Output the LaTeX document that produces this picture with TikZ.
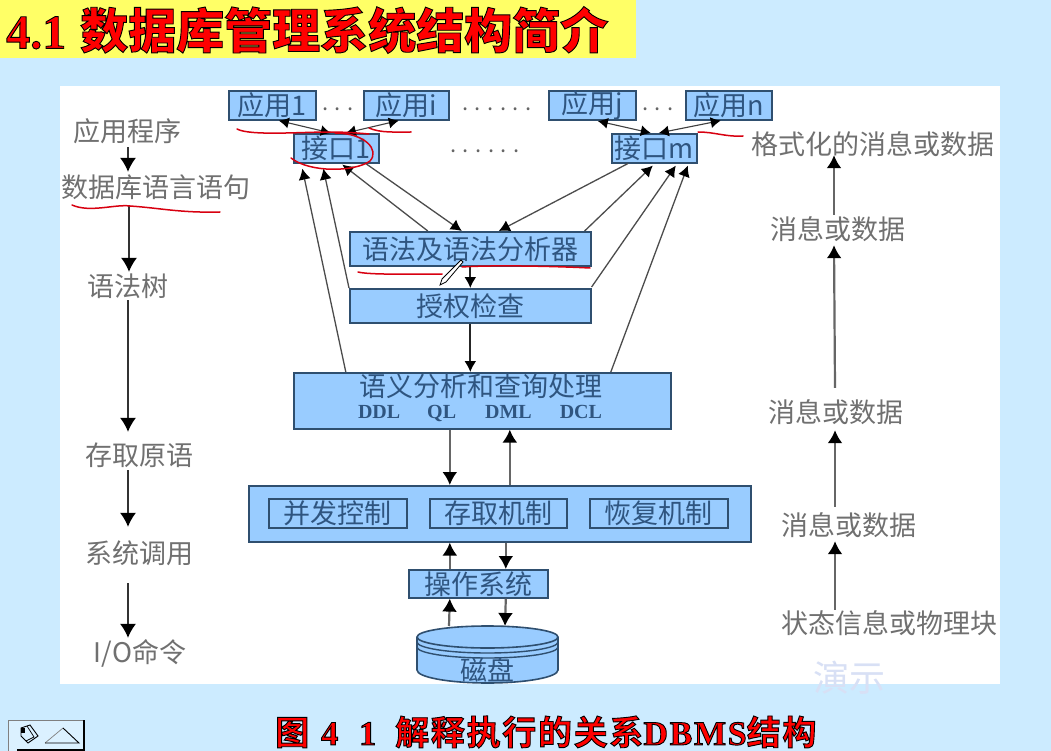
\documentclass[tikz,border=0pt]{standalone}
\usepackage{fontspec}
\usepackage{tikz}
\usetikzlibrary{arrows.meta}
\setmainfont{Noto Sans CJK SC}
\newfontfamily\latinfont{Liberation Serif}
\definecolor{pagebg}{HTML}{CCEBFF}
\definecolor{titlebg}{HTML}{FFFF66}
\definecolor{boxfill}{HTML}{99CCFF}
\definecolor{boxedge}{HTML}{2F4F6F}
\definecolor{boxtext}{HTML}{2F5580}
\definecolor{inktext}{HTML}{707070}
\definecolor{penred}{HTML}{D80010}
\definecolor{faintblue}{HTML}{D8E0F5}
\newcommand{\outlined}[1]{\special{pdf:code 2 Tr 0.9 w 0 G}#1\special{pdf:code 0 Tr}}
\tikzset{
 boxnode/.style={draw=boxedge,line width=1.6pt,fill=boxfill,text=boxtext,inner sep=0pt,anchor=north west,font=\fontsize{27}{28}\selectfont},
 sidelabel/.style={text=inktext,inner sep=0pt,text height=21.5pt,text depth=0.5pt,font=\fontsize{27}{28}\selectfont},
 sidelink/.style={draw=black!80,line width=1.2pt,-{Latex[black,length=14pt,width=16pt]}},
 thinlink/.style={draw=black!70,line width=1.3pt,-{Latex[black,length=11pt,width=12pt]}},
 twolink/.style={draw=black!75,line width=1.1pt,{Latex[black,length=10pt,width=11pt]}-{Latex[black,length=10pt,width=11pt]}},
 fatlink/.style={draw=black!60,line width=2.2pt,-{Latex[black,length=13pt,width=15pt]}},
 dotsnode/.style={text=black!60,inner sep=0pt,font=\fontsize{22}{22}\selectfont},
 scribble/.style={draw=penred,line width=1.5pt,line cap=round,line join=round}
}
\begin{document}
\begin{tikzpicture}[x=1pt,y=-1pt]
 \useasboundingbox (0,0) rectangle (1051,751);
 \fill[pagebg] (0,0) rectangle (1051,751);
 \fill[titlebg] (0,0) rectangle (636,58);
 \fill[white] (60,86) rectangle (1000,684);

 % heading and caption
 \node[anchor=west,inner sep=0pt,text=red] (heading) at (6,30) {\outlined{\fontsize{48}{50}\selectfont\latinfont\bfseries 4.1\hspace{14pt}\fontspec{Noto Sans CJK SC Bold}数据库管理系统结构简介}};
 \node[anchor=west,inner sep=0pt,text=red] (caption) at (275,732) {\outlined{\fontsize{34}{34}\selectfont\fontspec[LetterSpace=5]{Noto Sans CJK SC Bold}图\hspace{12pt}{\latinfont\bfseries 4\hspace{21pt}1}\hspace{19pt}解释执行的关系{\latinfont\bfseries\addfontfeatures{LetterSpace=5}DBMS}结构}};
 \node[text=faintblue,inner sep=0pt,font=\fontsize{36}{36}\selectfont] (demo) at (849,678) {演示};

 % applications
 \node[boxnode,minimum width=87pt,minimum height=29pt] (app1) at (228,90) {应用1};
 \node[boxnode,minimum width=85pt,minimum height=29pt] (appi) at (363,90) {应用i};
 \node[boxnode,minimum width=87pt,minimum height=29pt] (appj) at (548,90) {应用j};
 \node[boxnode,minimum width=86pt,minimum height=29pt] (appn) at (685,90) {应用n};
 \node[dotsnode] (dotsa) at (338,109) {. . .};
 \node[dotsnode] (dotsb) at (497,109) {. . . . . .};
 \node[dotsnode] (dotsc) at (658,109) {. . .};
 \node[dotsnode] (dotsd) at (485,151) {. . . . . .};
 \node[boxnode,minimum width=85pt,minimum height=29pt] (intf1) at (293,133) {接口1};
 \node[boxnode,minimum width=85pt,minimum height=29pt] (intfm) at (611,133) {接口m};

 % middle blocks
 \node[boxnode,minimum width=241pt,minimum height=34pt] (syn) at (349,231) {语法及语法分析器};
 \node[boxnode,minimum width=241pt,minimum height=34pt] (auth) at (349,288) {授权检查};
 \node[boxnode,minimum width=377pt,minimum height=56pt] (sem) at (293,372) {};
 \node[text=boxtext,inner sep=0pt,font=\fontsize{27}{28}\selectfont] (semtitle) at (481,386) {语义分析和查询处理};
 \node[text=boxtext,inner sep=0pt,font=\fontsize{20}{20}\selectfont\latinfont\bfseries] (semlang) at (480,413) {DDL\hspace{27pt}QL\hspace{29pt}DML\hspace{28pt}DCL};
 \node[boxnode,minimum width=502pt,minimum height=56pt] (ctrl) at (248,485) {};
 \node[boxnode,minimum width=138pt,minimum height=29pt] (conc) at (268,498) {并发控制};
 \node[boxnode,minimum width=137pt,minimum height=29pt] (access) at (429,498) {存取机制};
 \node[boxnode,minimum width=138pt,minimum height=29pt] (recov) at (589,498) {恢复机制};
 \node[boxnode,minimum width=139pt,minimum height=28pt] (os) at (408,569) {操作系统};

 % disk
 \filldraw[fill=boxfill,draw=boxedge,line width=1.6pt] (417,637) -- (417,670) arc[start angle=180,end angle=360,x radius=70.5pt,y radius=13pt] -- (558,637) arc[start angle=0,end angle=180,x radius=70.5pt,y radius=11pt] -- cycle;
 \draw[boxedge,line width=1.6pt] (417,637) arc[start angle=180,end angle=360,x radius=70.5pt,y radius=11pt];
 \draw[boxedge,line width=1.4pt] (417,642) arc[start angle=180,end angle=360,x radius=70.5pt,y radius=11pt];
 \draw[boxedge,line width=1.4pt] (417,647) arc[start angle=180,end angle=360,x radius=70.5pt,y radius=11pt];
 \node[text=boxtext,inner sep=0pt,font=\fontsize{27}{28}\selectfont] (disk) at (487,670) {磁盘};
 \coordinate (disktop) at (487.5,626);

 % left column
 \node[sidelabel] (prog) at (127,131) {应用程序};
 \node[sidelabel] (stmt) at (156,187) {数据库语言语句};
 \node[sidelabel] (tree) at (128,286) {语法树};
 \node[sidelabel] (prim) at (139,455) {存取原语};
 \node[sidelabel] (call) at (139,553) {系统调用};
 \node[sidelabel] (iocmd) at (140,652) {I/O命令};
 \draw[sidelink] ([xshift=1pt,yshift=-5pt]prog.south) -- ([xshift=-28pt,yshift=4pt]stmt.north);
 \draw[sidelink] ([xshift=-27pt,yshift=-7pt]stmt.south) -- ([xshift=1pt,yshift=3pt]tree.north);
 \draw[sidelink] ([yshift=-3pt]tree.south) -- ([xshift=-11pt,yshift=12pt]prim.north);
 \draw[sidelink] ([xshift=-11pt,yshift=-4pt]prim.south) -- ([xshift=-11pt,yshift=15pt]call.north);
 \draw[sidelink] ([xshift=-11pt,yshift=-19pt]call.south) -- ([xshift=-12pt,yshift=3pt]iocmd.north);

 % right column
 \node[sidelabel] (block) at (889,623) {状态信息或物理块};
 \node[sidelabel] (msga) at (849,525) {消息或数据};
 \node[sidelabel] (msgb) at (836,412) {消息或数据};
 \node[sidelabel] (msgc) at (838,229) {消息或数据};
 \node[sidelabel] (fmt) at (873,144) {格式化的消息或数据};
 \draw[fatlink] ([xshift=-54pt,yshift=2pt]block.north) -- ([xshift=-14pt,yshift=-5pt]msga.south);
 \draw[fatlink] ([xshift=-14pt,yshift=7pt]msga.north) -- ([xshift=-1pt,yshift=-7pt]msgb.south);
 \draw[fatlink] ([xshift=-1pt,yshift=13pt]msgb.north) -- ([xshift=-4pt,yshift=-5pt]msgc.south);
 \draw[fatlink] ([xshift=-4pt,yshift=3pt]msgc.north) -- ([xshift=-39pt]fmt.south);

 % connectors at the top
 \draw[twolink] ([xshift=6.5pt]app1.south) -- ([xshift=-5.5pt]intf1.north);
 \draw[twolink] ([xshift=-7.5pt]appi.south) -- ([xshift=9.5pt]intf1.north);
 \draw[twolink] ([xshift=5.5pt]appj.south) -- ([xshift=-3.5pt]intfm.north);
 \draw[twolink] ([xshift=-8pt]appn.south) -- ([xshift=4.5pt]intfm.north);
 \draw[thinlink] ([xshift=-136.5pt]sem.north) -- ([xshift=-34pt,yshift=-5pt]intf1.south);
 \draw[thinlink] (auth.north west) -- ([xshift=-13pt,yshift=-5pt]intf1.south);
 \draw[thinlink] ([xshift=-42.5pt]syn.north) -- ([xshift=6pt,yshift=-1pt]intf1.south);
 \draw[thinlink] ([xshift=29.5pt]intf1.south) -- ([xshift=-8.5pt]syn.north);
 \draw[thinlink] ([xshift=-26.5pt]intfm.south) -- ([xshift=28.5pt]syn.north);
 \draw[thinlink] ([xshift=-7pt]syn.north east) -- ([xshift=-1.5pt,yshift=-2pt]intfm.south);
 \draw[thinlink] ([yshift=1pt]auth.north east) -- ([xshift=21.5pt,yshift=-2pt]intfm.south);
 \draw[thinlink] ([xshift=128.5pt]sem.north) -- ([xshift=33.5pt,yshift=-2pt]intfm.south);

 % connectors in the middle
 \draw[thinlink,line width=1.7pt,draw=black!85] (syn) -- (auth);
 \draw[thinlink,line width=1.7pt,draw=black!85] (auth) -- (sem.north -| auth);
 \draw[fatlink] ([xshift=-32.5pt]sem.south) -- ([xshift=-50pt]ctrl.north);
 \draw[fatlink] ([xshift=10pt]ctrl.north) -- ([xshift=27.5pt]sem.south);
 \draw[fatlink] ([xshift=-28.5pt]os.north) -- ([xshift=-50pt]ctrl.south);
 \draw[fatlink] ([xshift=6pt]ctrl.south) -- ([xshift=27.5pt]os.north);
 \draw[fatlink] ([xshift=-38.5pt]disktop) -- ([xshift=-28.5pt]os.south);
 \draw[fatlink] ([xshift=27.5pt]os.south) -- ([xshift=17.5pt]disktop);

 % pen marks
 \draw[scribble] (237,129) .. controls (250,136) and (300,132) .. (330,132) .. controls (345,132) and (358,133) .. (369,134);
 \draw[scribble] (369,128) .. controls (380,133) and (395,132) .. (411,132);
 \draw[scribble] (335,133) .. controls (365,133) and (380,150) .. (370,161) .. controls (355,172) and (310,173) .. (291,158);
 \draw[scribble] (72,205) .. controls (90,213) and (115,204) .. (130,206) .. controls (160,208) and (180,213) .. (220,212);
 \draw[scribble] (358,272) .. controls (370,275) and (410,274) .. (442,274);
 \draw[scribble] (462,267) .. controls (490,265) and (550,266) .. (590,268);
 \draw[scribble] (698,132) .. controls (715,132) and (725,137) .. (743,136);
 \filldraw[fill=white,draw=black,line width=0.8pt] (461,260) -- (463,262) -- (446,282) -- (440,285) -- (442,279) -- cycle;

 % button at the bottom
 \fill[pagebg!70!white] (8,720) rectangle (85,751);
 \draw[black!50,line width=0.8pt] (8,751) -- (8,720) -- (85,720);
 \fill[black] (83,720) rectangle (85,751);
 \fill[black] (17,749) rectangle (85,751);
 \draw[black!50,line width=0.7pt] (45,743) -- (63,728);
 \draw[black,line width=0.9pt] (63,728) -- (79,743) -- (45,743);
 \draw[black,line width=0.9pt] (21,728) -- (30,725) -- (38,736) -- (28,743) -- (21,736) -- cycle;
 \draw[black,line width=0.7pt] (27,726) -- (34,737) -- (26,741);
 \fill[black] (21,728) rectangle (25,733);
\end{tikzpicture}
\end{document}
